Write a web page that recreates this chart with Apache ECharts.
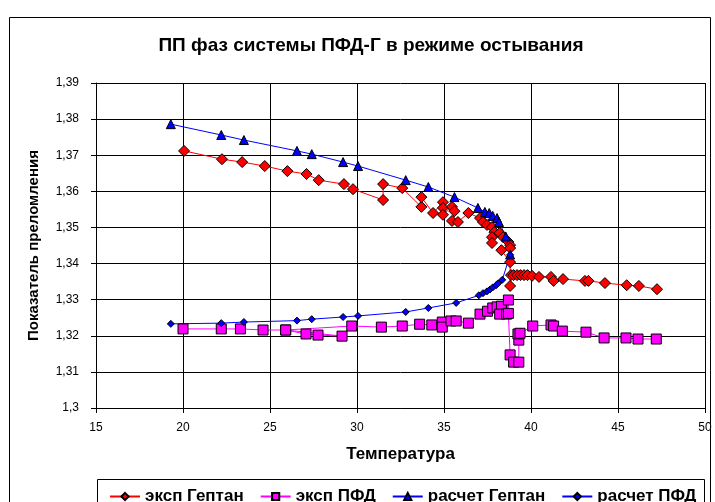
<!DOCTYPE html>
<html>
<head>
<meta charset="utf-8">
<script src="https://cdn.jsdelivr.net/npm/echarts@6/dist/echarts.min.js"></script>
<style>
  html, body { margin: 0; padding: 0; background: #fff; }
  #chart { width: 715px; height: 502px; }
</style>
</head>
<body>
<div id="chart"></div>
<script>
// Data: [temperature, refractive index]
const expHeptane = [
    [20.06, 1.3712], [22.24, 1.3689], [23.4, 1.3681], [24.7, 1.3670], [26.0, 1.3656],
    [27.1, 1.3648], [27.8, 1.3631], [29.25, 1.3620], [29.77, 1.3606], [31.5, 1.3576],
    [31.5, 1.3620], [32.6, 1.3609], [33.7, 1.3557], [33.7, 1.3584], [34.37, 1.3540],
    [34.94, 1.3570], [34.94, 1.3554], [34.94, 1.3535], [35.46, 1.3557], [35.6, 1.3545],
    [35.46, 1.3518], [35.8, 1.3515], [36.4, 1.3540], [37.07, 1.3526], [37.24, 1.3515],
    [37.47, 1.3507], [37.76, 1.3501], [37.9, 1.3487], [37.76, 1.3473], [37.76, 1.3457],
    [38.2, 1.3485], [38.4, 1.3473], [38.7, 1.3460], [38.8, 1.3451], [38.8, 1.3443],
    [38.3, 1.3437], [38.8, 1.3404], [38.8, 1.3338], [38.85, 1.3368], [39.0, 1.3368],
    [39.2, 1.3368], [39.4, 1.3368], [39.6, 1.3368], [39.8, 1.3368], [40.06, 1.3366],
    [40.46, 1.3363], [41.15, 1.3363], [41.3, 1.3352], [41.84, 1.3357], [43.1, 1.3352],
    [43.3, 1.3352], [44.25, 1.3346], [45.5, 1.3340], [46.2, 1.3338], [47.24, 1.3329]
];

const expPFD = [
    [20.0, 1.3219], [22.2, 1.3219], [23.3, 1.3219], [24.6, 1.3216], [25.9, 1.3216],
    [27.07, 1.3205], [27.76, 1.3202], [29.14, 1.3199], [25.9, 1.3216], [29.7, 1.3227],
    [31.4, 1.3224], [32.6, 1.3227], [33.6, 1.3232], [34.3, 1.3230], [34.9, 1.3238],
    [34.9, 1.3224], [35.4, 1.3241], [35.7, 1.3241], [36.4, 1.3235], [37.07, 1.3260],
    [37.5, 1.3268], [37.8, 1.3277], [38.05, 1.3280], [38.3, 1.3282], [38.2, 1.3260],
    [38.6, 1.3260], [38.7, 1.3299], [38.7, 1.3262], [38.8, 1.3147], [39.0, 1.3127],
    [39.3, 1.3127], [39.3, 1.3188], [39.25, 1.3205], [39.37, 1.3207], [40.1, 1.3227],
    [41.15, 1.3230], [41.3, 1.3227], [41.8, 1.3213], [43.16, 1.3210], [44.2, 1.3194],
    [45.46, 1.3194], [46.15, 1.3191], [47.2, 1.3191]
];

const calcHeptane = [
    [19.3, 1.3786], [22.2, 1.3756], [23.5, 1.3742], [26.55, 1.3712], [27.4, 1.3703],
    [29.2, 1.3681], [30.06, 1.3670], [32.8, 1.3631], [34.1, 1.3612], [35.6, 1.3584],
    [36.95, 1.3554], [37.35, 1.3543], [37.6, 1.3540], [37.8, 1.3532], [38.05, 1.3526],
    [38.16, 1.3515], [38.55, 1.3475], [38.8, 1.3425]
];

const calcPFD = [
    [19.3, 1.3233], [22.2, 1.3235], [23.5, 1.3238], [26.55, 1.3242], [27.4, 1.3246],
    [29.2, 1.3252], [30.06, 1.3255], [32.8, 1.3266], [34.1, 1.3277], [35.7, 1.3291],
    [37.0, 1.3312], [37.24, 1.3318], [37.47, 1.3323], [37.64, 1.3328], [37.8, 1.3334],
    [38.0, 1.3340], [38.1, 1.3345], [38.35, 1.3355], [38.8, 1.3424]
];

const seriesNames = ['эксп Гептан', 'эксп ПФД', 'расчет Гептан', 'расчет ПФД'];
const titleText = 'ПП фаз системы ПФД-Г в режиме остывания';
const xName = 'Температура';
const yName = 'Показатель преломления';

const font = 'Arial, "Liberation Sans", sans-serif';

const chart = echarts.init(document.getElementById('chart'), null, { renderer: 'canvas' });

function lineSeries(name, data, color, symbol, size, fill) {
    return {
        name: name,
        type: 'line',
        data: data,
        symbol: symbol,
        symbolSize: size,
        showAllSymbol: true,
        lineStyle: { color: color, width: 1 },
        itemStyle: { color: fill, borderColor: '#000', borderWidth: 1 },
        emphasis: { disabled: true },
        animation: false
    };
}

const option = {
    backgroundColor: '#fff',
    animation: false,
    title: {
        text: titleText,
        left: 366,
        textAlign: 'center',
        top: 31,
        textStyle: { fontFamily: font, fontSize: 19, fontWeight: 'bold', color: '#000' }
    },
    graphic: [
        {
            type: 'rect',
            shape: { x: 9.5, y: 17.5, width: 701, height: 500 },
            style: { fill: 'none', stroke: '#000', lineWidth: 1 },
            z: -1
        },
        {
            type: 'rect',
            shape: { x: 97.5, y: 479.5, width: 607, height: 30 },
            style: { fill: '#fff', stroke: '#000', lineWidth: 1 },
            z: 0
        }
    ],
    legend: {
        data: seriesNames,
        left: 104,
        top: 483,
        itemWidth: 30,
        itemHeight: 9,
        itemGap: 16,
        textStyle: { fontFamily: font, fontSize: 17, fontWeight: 'bold', color: '#000' },
        z: 5
    },
    grid: { left: 96, right: 10, top: 83, bottom: 94, containLabel: false },
    xAxis: {
        type: 'value',
        min: 15,
        max: 50,
        interval: 5,
        name: xName,
        nameLocation: 'middle',
        nameGap: 38,
        nameTextStyle: { fontFamily: font, fontSize: 17, fontWeight: 'bold', color: '#000' },
        axisLine: { lineStyle: { color: '#000', width: 1 } },
        axisTick: { show: true, inside: false, length: 5, lineStyle: { color: '#000' } },
        axisLabel: { fontFamily: font, fontSize: 12, color: '#000', margin: 14 },
        splitLine: { show: true, lineStyle: { color: '#000', width: 1 } }
    },
    yAxis: {
        type: 'value',
        min: 1.30,
        max: 1.39,
        interval: 0.01,
        name: yName,
        nameLocation: 'middle',
        nameGap: 55,
        nameTextStyle: { fontFamily: font, fontSize: 15, fontWeight: 'bold', color: '#000' },
        axisLine: { show: true, lineStyle: { color: '#000', width: 1 } },
        axisTick: { show: true, inside: false, length: 5, lineStyle: { color: '#000' } },
        axisLabel: {
            fontFamily: font, fontSize: 12, color: '#000', margin: 17,
            formatter: function (v) { return String(+v.toFixed(2)).replace('.', ','); }
        },
        splitLine: { show: true, lineStyle: { color: '#000', width: 1 } }
    },
    series: [
        lineSeries(seriesNames[0], expHeptane, '#ff0000', 'diamond', 11, '#ff0000'),
        lineSeries(seriesNames[1], expPFD, '#ff00ff', 'rect', 10, '#ff00ff'),
        lineSeries(seriesNames[2], calcHeptane, '#0000ff', 'triangle', 9, '#0000ff'),
        lineSeries(seriesNames[3], calcPFD, '#0000ff', 'diamond', 7, '#0000ff')
    ]
};

chart.setOption(option);
</script>
</body>
</html>
